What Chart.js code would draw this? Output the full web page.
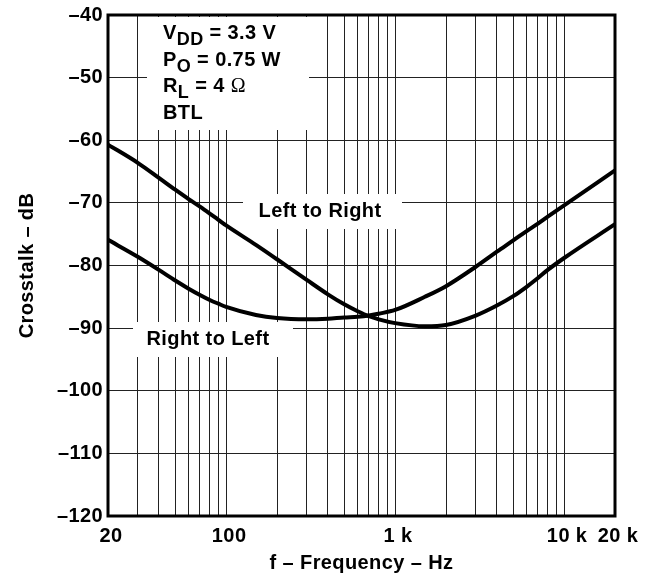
<!DOCTYPE html>
<html>
<head>
<meta charset="utf-8">
<script src="https://cdn.jsdelivr.net/npm/chart.js@4.4.1/dist/chart.umd.min.js"></script>
<style>
  html, body { margin: 0; padding: 0; background: #fff; }
  #wrap { width: 656px; height: 582px; }
</style>
</head>
<body>
<div id="wrap"><canvas id="crosstalk"></canvas></div>
<script>
// frequency points (Hz)
const freqs = [20, 30, 40, 50, 60, 70, 80, 90, 100, 150, 200, 300, 400, 500, 600, 700, 800,
  1000, 1500, 2000, 3000, 4000, 5000, 6000, 7000, 8000, 10000, 20000];

// crosstalk in dB
const leftToRight = [-60.7, -63.6, -66.0, -67.9, -69.4, -70.6, -71.7, -72.7, -73.6, -76.7, -79.0,
  -82.3, -84.6, -86.2, -87.3, -88.1, -88.6, -89.2, -89.7, -89.5, -88.0, -86.4, -84.9, -83.4,
  -82.0, -80.7, -78.8, -73.4];
const rightToLeft = [-75.9, -78.6, -80.7, -82.4, -83.7, -84.7, -85.5, -86.1, -86.6, -87.9, -88.4,
  -88.6, -88.5, -88.3, -88.2, -88.0, -87.7, -87.1, -85.0, -83.3, -80.2, -77.8, -76.0, -74.5,
  -73.3, -72.2, -70.4, -64.8];

// grid lines on the x axis and the ones that get a label
const xGrid = [20, 30, 40, 50, 60, 70, 80, 90, 100, 200, 300, 400, 500, 600, 700, 800, 900,
  1000, 2000, 3000, 4000, 5000, 6000, 7000, 8000, 9000, 10000, 20000];
const xLabels = { 20: '20', 100: '100', 1000: '1 k', 10000: '10 k', 20000: '20 k' };

const FONT = '"Liberation Sans", Arial, Helvetica, sans-serif';

function toPoints(ys) {
  return freqs.map((f, i) => ({ x: f, y: ys[i] }));
}

// text with a subscript part, e.g. V + DD
function drawSub(ctx, x, y, main, sub, rest, serifTail) {
  ctx.font = 'bold 20px ' + FONT;
  ctx.fillText(main, x, y);
  x += ctx.measureText(main).width;
  ctx.font = 'bold 18px ' + FONT;
  ctx.fillText(sub, x, y + 6);
  x += ctx.measureText(sub).width;
  ctx.font = 'bold 20px ' + FONT;
  ctx.fillText(rest, x, y);
  if (serifTail) {
    x += ctx.measureText(rest).width;
    ctx.font = '20px "Liberation Serif", "Times New Roman", serif';
    ctx.fillText(serifTail, x, y);
  }
}

const notes = {
  id: 'notes',
  beforeDraw(chart) {
    chart.ctx.letterSpacing = '0.4px';
  },
  beforeDatasetsDraw(chart) {
    const ctx = chart.ctx;
    ctx.save();
    ctx.fillStyle = '#fff';
    ctx.fillRect(147, 17, 162, 113);
    ctx.fillRect(243, 194, 159, 35);
    ctx.fillRect(133, 322, 160, 35);

    ctx.fillStyle = '#000';
    ctx.textBaseline = 'alphabetic';
    ctx.textAlign = 'left';
    drawSub(ctx, 163, 38.5, 'V', 'DD', ' = 3.3 V');
    drawSub(ctx, 163, 65.5, 'P', 'O', ' = 0.75 W');
    drawSub(ctx, 163, 92.3, 'R', 'L', ' = 4 ', '\u03A9');
    ctx.font = 'bold 20px ' + FONT;
    ctx.fillText('BTL', 163, 119.2);

    ctx.textAlign = 'center';
    ctx.fillText('Left to Right', 320, 217);
    ctx.fillText('Right to Left', 208, 345);
    ctx.restore();
  },
  afterDatasetsDraw(chart) {
    const { ctx, chartArea: a } = chart;
    ctx.save();
    ctx.strokeStyle = '#000';
    ctx.lineWidth = 3;
    ctx.strokeRect(a.left, a.top, a.right - a.left, a.bottom - a.top);
    ctx.restore();
  }
};

const lineStyle = {
  borderColor: '#000',
  borderWidth: 4,
  pointRadius: 0,
  fill: false,
  cubicInterpolationMode: 'monotone'
};

new Chart(document.getElementById('crosstalk'), {
  type: 'scatter',
  data: {
    datasets: [
      { label: 'Left to Right', data: toPoints(leftToRight), showLine: true, ...lineStyle },
      { label: 'Right to Left', data: toPoints(rightToLeft), showLine: true, ...lineStyle }
    ]
  },
  options: {
    responsive: true,
    maintainAspectRatio: false,
    animation: false,
    layout: { padding: { top: 10, right: 41, bottom: 0, left: 0 } },
    plugins: {
      legend: { display: false },
      tooltip: { enabled: false }
    },
    scales: {
      x: {
        type: 'logarithmic',
        min: 20,
        max: 20000,
        afterBuildTicks: (s) => { s.ticks = xGrid.map(v => ({ value: v })); },
        afterFit: (s) => { s.height = 66; },
        border: { display: false },
        grid: { color: '#222', lineWidth: 1, drawTicks: false },
        ticks: {
          autoSkip: false,
          maxRotation: 0,
          padding: 10,
          labelOffset: 3,
          color: '#000',
          font: { family: FONT, size: 20, weight: 'bold', lineHeight: 1 },
          callback: (v) => xLabels[v] || ''
        },
        title: {
          display: true,
          text: 'f \u2013 Frequency \u2013 Hz',
          color: '#000',
          font: { family: FONT, size: 20, weight: 'bold', lineHeight: 1.2 },
          padding: { top: 0, bottom: 7 }
        }
      },
      y: {
        min: -120,
        max: -40,
        afterFit: (s) => { s.width = 108; },
        border: { display: false },
        grid: { color: '#222', lineWidth: 1, drawTicks: false },
        ticks: {
          stepSize: 10,
          padding: 5,
          color: '#000',
          font: { family: FONT, size: 20, weight: 'bold', lineHeight: 1 },
          callback: (v) => '\u2013' + Math.abs(v)
        },
        title: {
          display: true,
          text: 'Crosstalk \u2013 dB',
          color: '#000',
          font: { family: FONT, size: 20, weight: 'bold', lineHeight: 1.2 },
          padding: { top: 15, bottom: 0 }
        }
      }
    }
  },
  plugins: [notes]
});
</script>
</body>
</html>
